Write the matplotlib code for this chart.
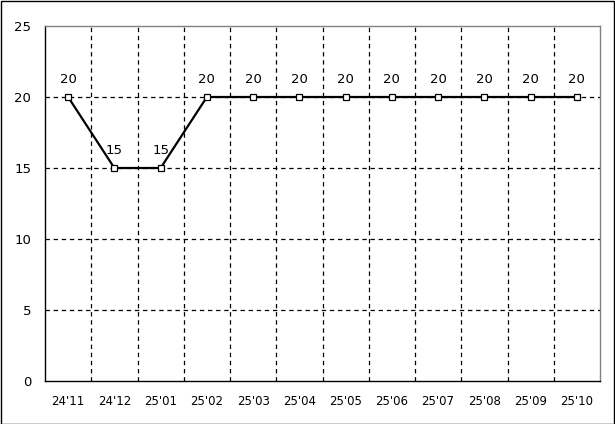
import matplotlib.pyplot as plt
from matplotlib.patches import Rectangle

months = ["24'11", "24'12", "25'01", "25'02", "25'03", "25'04",
          "25'05", "25'06", "25'07", "25'08", "25'09", "25'10"]
values = [20, 15, 15, 20, 20, 20, 20, 20, 20, 20, 20, 20]
yticks = [0, 5, 10, 15, 20, 25]

W, H = 615, 424
fig = plt.figure(figsize=(W / 100, H / 100), dpi=100)
fig.patches.append(Rectangle((0.5 / W, 0.5 / H), 1 - 1.5 / W, 1 - 1.5 / H,
                             transform=fig.transFigure, fill=False,
                             edgecolor='black', linewidth=1.0))

ax = fig.add_axes([45 / W, (H - 381) / H, 555 / W, 355 / H])
x = list(range(len(months)))

ax.plot(x, values, color='black', linewidth=1.6, marker='s', markersize=4.5,
        markerfacecolor='white', markeredgecolor='black', markeredgewidth=0.9,
        zorder=3)
for xi, v in zip(x, values):
    ax.annotate(str(v), (xi, v), xytext=(0, 8), textcoords='offset points',
                ha='center', va='bottom', fontsize=9.5)

ax.set_xlim(-0.5, len(months) - 0.5)
ax.set_ylim(0, 25)
ax.set_yticks(yticks)
ax.set_yticklabels([str(t) for t in yticks], fontsize=9.5)
ax.set_xticks(x)
ax.set_xticklabels(months, fontsize=8.5)
ax.tick_params(length=0, pad=10)
ax.tick_params(axis='y', pad=10)

for b in [i + 0.5 for i in range(len(months) - 1)]:
    ax.axvline(b, color='black', linestyle=(0, (3.5, 3)), linewidth=0.9, zorder=1)
for t in yticks[1:-1]:
    ax.axhline(t, color='black', linestyle=(0, (3.5, 3)), linewidth=0.9, zorder=1)

ax.spines['left'].set_color('black')
ax.spines['bottom'].set_color('black')
ax.spines['top'].set_color('#808080')
ax.spines['right'].set_color('#808080')
for s in ax.spines.values():
    s.set_linewidth(1.0)

fig.savefig('out.png', dpi=100)
